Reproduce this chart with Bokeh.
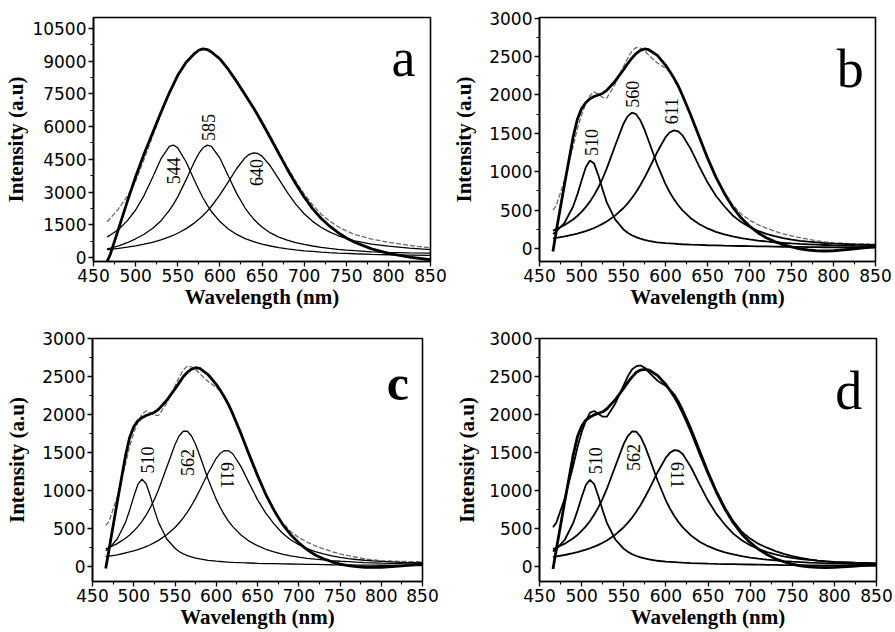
import math
from bokeh.plotting import figure
from bokeh.models import Range1d, FixedTicker
from bokeh.layouts import column, row
from bokeh.embed import file_html
from bokeh.resources import INLINE
from bokeh.core.properties import value

# ---------------- data ----------------
X_TICKS = [450, 500, 550, 600, 650, 700, 750, 800, 850]
X_MINOR = [475, 525, 575, 625, 675, 725, 775, 825]
A_YTICKS = [0, 1500, 3000, 4500, 6000, 7500, 9000, 10500]
A_YMINOR = [750, 2250, 3750, 5250, 6750, 8250, 9750]
BCD_YTICKS = [0, 500, 1000, 1500, 2000, 2500, 3000]
BCD_YMINOR = [250, 750, 1250, 1750, 2250, 2750]

# panel a
WA = [466, 470, 480, 490, 500, 510, 520, 530, 540, 545, 550, 560, 570, 575, 580, 585, 590, 600, 610, 620,
      630, 635, 640, 645, 650, 660, 670, 680, 690, 700, 710, 720, 730, 740, 750, 760, 780, 800, 825, 850]
A_EXP = [1640, 1800, 2250, 2800, 3500, 4500, 5550, 6550, 7500, 7950, 8350, 8950, 9400, 9530, 9580, 9550, 9450, 9150, 8650, 8100,
         7500, 7200, 6900, 6580, 6250, 5550, 4850, 4150, 3500, 2920, 2420, 2000, 1680, 1420, 1220, 1060, 850, 700, 560, 440]
A_FIT = [-200, 150, 1350, 2550, 3700, 4750, 5700, 6650, 7550, 7950, 8350, 8950, 9350, 9500, 9560, 9530, 9420, 9100, 8620, 8060,
         7460, 7150, 6850, 6520, 6180, 5480, 4760, 4050, 3380, 2780, 2240, 1800, 1450, 1150, 900, 700, 400, 190, 20, -100]
A_P544 = [950, 1030, 1300, 1680, 2180, 2840, 3660, 4520, 5090, 5150, 5030, 4380, 3520, 3120, 2730, 2400, 2110, 1650, 1310, 1060,
          870, 800, 730, 670, 620, 530, 460, 400, 350, 310, 280, 250, 225, 205, 190, 175, 150, 130, 115, 100]
A_P585 = [400, 430, 540, 680, 860, 1070, 1330, 1680, 2160, 2450, 2780, 3570, 4410, 4770, 5030, 5150, 5100, 4560, 3740, 2930,
          2270, 2000, 1770, 1570, 1400, 1130, 940, 800, 690, 600, 530, 470, 420, 380, 345, 315, 265, 235, 215, 200]
A_P640 = [362, 378, 422, 474, 536, 611, 700, 809, 945, 1024, 1114, 1325, 1590, 1751, 1929, 2129, 2352, 2870, 3468, 4082,
          4578, 4732, 4798, 4769, 4649, 4194, 3593, 2985, 2449, 2006, 1660, 1390, 1180, 1010, 880, 770, 620, 520, 430, 360]

# panels b, c, d share one wavelength grid
WB = [466, 470, 480, 490, 495, 500, 505, 510, 515, 520, 525, 530, 540, 550, 555, 560, 565, 570, 575, 580, 590, 600, 605,
      610, 615, 620, 630, 640, 650, 660, 670, 680, 690, 700, 710, 720, 730, 740, 750, 760, 770, 780, 790, 800, 825, 850]

B_EXP = [500, 560, 900, 1330, 1560, 1740, 1880, 1990, 2040, 2010, 1970, 1960, 2140, 2370, 2480, 2570, 2620, 2610, 2580, 2520,
         2420, 2350, 2300, 2230, 2130, 2010, 1740, 1450, 1170, 930, 730, 570, 450, 370, 310, 265, 225, 190, 165, 140, 120,
         100, 85, 75, 60, 55]
B_FIT = [-40, 230, 850, 1450, 1680, 1820, 1900, 1950, 1980, 2000, 2020, 2060, 2180, 2330, 2410, 2480, 2540, 2580, 2600, 2590,
         2520, 2390, 2310, 2220, 2120, 2000, 1740, 1460, 1180, 930, 720, 540, 400, 290, 205, 140, 90, 50, 20, -5, -20,
         -30, -33, -30, -5, 25]
B_P510 = [190, 221, 338, 547, 701, 883, 1055, 1147, 1106, 956, 772, 604, 378, 248, 205, 172, 148, 128, 112, 100,
          80, 70, 66, 62, 58, 55, 50, 46, 42, 39, 36, 34, 32, 30, 28, 26, 24, 22, 21, 20, 18, 17, 16, 15, 13, 11]
B_P560 = [233, 251, 306, 378, 423, 476, 538, 610, 695, 794, 909, 1040, 1339, 1626, 1725, 1769, 1750, 1671, 1548, 1400,
          1097, 838, 733, 643, 566, 500, 395, 318, 261, 217, 183, 156, 134, 117, 103, 91, 81, 73, 65, 59, 54, 49, 45, 41, 34, 29]
B_P611 = [130, 137, 156, 180, 194, 209, 226, 246, 267, 292, 320, 351, 428, 527, 588, 657, 736, 824, 923, 1029,
          1254, 1449, 1512, 1539, 1527, 1478, 1298, 1074, 862, 687, 550, 430, 345, 280, 230, 190, 160, 135, 115, 100,
          88, 78, 70, 63, 52, 45]

C_EXP = [540, 590, 920, 1350, 1580, 1760, 1900, 2010, 2050, 2020, 1990, 1990, 2150, 2380, 2490, 2590, 2640, 2630, 2600, 2540,
         2440, 2360, 2310, 2240, 2140, 2020, 1750, 1460, 1180, 940, 740, 580, 460, 380, 320, 270, 230, 195, 165, 140, 120,
         100, 85, 75, 65, 60]
C_FIT = [-30, 220, 850, 1460, 1700, 1840, 1920, 1960, 1990, 2010, 2030, 2070, 2190, 2340, 2420, 2500, 2560, 2600, 2620, 2610,
         2530, 2400, 2320, 2230, 2130, 2010, 1750, 1470, 1200, 950, 740, 560, 420, 310, 220, 150, 100, 60, 30, 8, -5,
         -12, -15, -12, 5, 30]
C_P510 = [205, 235, 360, 580, 740, 920, 1080, 1150, 1090, 930, 745, 580, 360, 238, 196, 165, 142, 124, 109, 97,
          78, 68, 64, 60, 56, 53, 48, 44, 40, 37, 35, 33, 31, 29, 27, 25, 23, 21, 20, 19, 17, 16, 15, 14, 12, 10]
C_P562 = [229, 247, 300, 370, 413, 465, 524, 594, 676, 772, 883, 1011, 1307, 1607, 1719, 1782, 1782, 1719, 1607, 1463,
          1153, 883, 772, 676, 594, 524, 413, 332, 272, 225, 190, 162, 139, 121, 106, 94, 84, 75, 67, 61, 55, 50, 46, 42, 35, 29]
C_P611 = [127, 134, 152, 176, 190, 205, 221, 240, 261, 285, 312, 342, 417, 513, 572, 639, 716, 802, 899, 1003,
          1228, 1425, 1492, 1527, 1524, 1485, 1315, 1094, 880, 702, 560, 440, 350, 285, 235, 195, 163, 138, 118, 102,
          90, 80, 72, 65, 53, 46]

D_EXP = [520, 580, 900, 1330, 1570, 1770, 1920, 2030, 2050, 2010, 1975, 1975, 2150, 2390, 2510, 2600, 2640, 2650, 2620, 2560,
         2450, 2380, 2330, 2270, 2180, 2070, 1820, 1540, 1260, 1000, 780, 600, 460, 370, 300, 250, 205, 170, 140, 115, 95,
         80, 70, 60, 50, 45]
D_FIT = [-30, 230, 860, 1470, 1710, 1850, 1930, 1970, 2000, 2020, 2040, 2080, 2200, 2350, 2430, 2500, 2560, 2590, 2600, 2590,
         2520, 2400, 2320, 2240, 2140, 2030, 1780, 1500, 1230, 980, 760, 580, 430, 320, 230, 160, 105, 65, 35, 12, -2,
         -10, -12, -10, 8, 35]
D_P510 = [200, 232, 355, 575, 735, 915, 1075, 1145, 1085, 925, 740, 578, 358, 236, 195, 164, 141, 123, 108, 96,
          78, 68, 64, 60, 56, 53, 48, 44, 40, 37, 35, 33, 31, 29, 27, 25, 23, 21, 20, 19, 17, 16, 15, 14, 12, 10]
D_P562 = [231, 249, 303, 374, 418, 471, 531, 602, 686, 784, 897, 1027, 1323, 1617, 1724, 1783, 1777, 1709, 1592, 1446,
          1138, 872, 763, 668, 587, 518, 409, 329, 270, 224, 189, 161, 138, 120, 105, 93, 83, 74, 66, 60, 54, 49, 45, 41, 34, 28]
D_P611 = [128, 135, 154, 178, 192, 207, 224, 243, 264, 288, 316, 346, 422, 520, 580, 648, 726, 813, 911, 1016,
          1241, 1437, 1502, 1535, 1527, 1483, 1306, 1084, 871, 695, 555, 435, 348, 283, 233, 193, 162, 137, 117, 101,
          89, 79, 71, 64, 52, 45]

# peak labels
A_LABELS = ["544", "585", "640"]
A_LABEL_X = [545, 586, 643]
A_LABEL_Y = [3980, 5960, 3900]
B_LABELS = ["510", "560", "611"]
B_LABEL_X = [511.5, 561, 607]
B_LABEL_Y = [1380, 2009, 1790]
C_LABELS = ["510", "562", "611"]
C_LABEL_X = [517, 565, 614]
C_LABEL_Y = [1404, 1369, 1204]
D_LABELS = ["510", "562", "611"]
D_LABEL_X = [516, 562, 614]
D_LABEL_Y = [1394, 1437, 1207]

SERIF = "Liberation Serif"
SANS = "DejaVu Sans"


def make_panel(w, exp, fit, comps, labels, lx, ly, angles, letter, lxy, letter_style,
               yticks, yminor, yr, width, height, borders, ystand, exp_style, comp_w):
    left, right, top, bottom = borders
    p = figure(width=width, height=height, x_range=Range1d(450, 850), y_range=Range1d(*yr),
               output_backend="svg", toolbar_location=None,
               min_border_left=left, min_border_right=right, min_border_top=top, min_border_bottom=bottom)
    p.xgrid.visible = False
    p.ygrid.visible = False
    p.outline_line_color = "black"
    p.outline_line_width = 1.6
    p.outline_line_alpha = 1.0
    p.background_fill_color = "white"
    p.border_fill_color = "white"

    p.xaxis.ticker = FixedTicker(ticks=X_TICKS, minor_ticks=X_MINOR)
    p.yaxis.ticker = FixedTicker(ticks=yticks, minor_ticks=yminor)
    for ax in (p.xaxis[0], p.yaxis[0]):
        ax.axis_line_width = 1.6
        ax.axis_line_color = "black"
        ax.major_tick_line_color = "black"
        ax.minor_tick_line_color = "black"
        ax.major_tick_line_width = 1.3
        ax.minor_tick_line_width = 1.1
        ax.major_tick_in = 0
        ax.major_tick_out = 5
        ax.minor_tick_in = 0
        ax.minor_tick_out = 3
        ax.major_label_text_font = SANS
        ax.major_label_text_font_size = "17px"
        ax.major_label_text_color = "black"
        ax.axis_label_text_font = SERIF
        ax.axis_label_text_font_style = "bold"
        ax.axis_label_text_font_size = "21px"
        ax.axis_label_text_color = "black"
    p.xaxis.axis_label = "Wavelength (nm)"
    p.yaxis.axis_label = "Intensity (a.u)"
    p.xaxis.major_label_standoff = 2
    p.xaxis.axis_label_standoff = 0
    p.yaxis.major_label_standoff = 2
    p.yaxis.axis_label_standoff = ystand

    # experimental spectrum
    p.line(w, exp, **exp_style)
    # fitted components
    for c in comps:
        p.line(w, c, line_color="black", line_width=comp_w)
    # cumulative fit
    p.line(w, fit, line_color="black", line_width=2.8)

    p.text(x=lx, y=ly, text=labels, angle=angles, text_font=value(SERIF), text_font_size="18px",
           text_align="center", text_baseline="middle", text_color="black")
    p.text(x=[lxy[0]], y=[lxy[1]], text=[letter], text_font=value(SERIF), text_align="center",
           text_baseline="alphabetic", text_color="black", **letter_style)
    return p


UP = math.pi / 2
DOWN = -math.pi / 2
dashed = dict(line_color="#6a6a6a", line_width=1.3, line_dash="5 2")

# top row: frames y 17..261 ; bottom row: frames y 338..582
pa = make_panel(WA, A_EXP, A_FIT, [A_P544, A_P585, A_P640], A_LABELS, A_LABEL_X, A_LABEL_Y, [UP, UP, UP],
                "a", (818, 9127), dict(text_font_size="54px"),
                A_YTICKS, A_YMINOR, (-180, 11000), 447, 311, (93, 17, 17, 50), 1, dashed, 1.3)
pb = make_panel(WB, B_EXP, B_FIT, [B_P510, B_P560, B_P611], B_LABELS, B_LABEL_X, B_LABEL_Y, [UP, UP, UP],
                "b", (820, 2345), dict(text_font_size="54px"),
                BCD_YTICKS, BCD_YMINOR, (-170, 3010), 447, 311, (92, 19, 17, 50), 10, dashed, 1.8)
pc = make_panel(WB, C_EXP, C_FIT, [C_P510, C_P562, C_P611], C_LABELS, C_LABEL_X, C_LABEL_Y, [UP, UP, DOWN],
                "c", (820, 2413), dict(text_font_size="50px", text_font_style="bold"),
                BCD_YTICKS, BCD_YMINOR, (-200, 3005), 447, 320, (92, 25, 27, 49), 10, dashed, 1.3)
pd = make_panel(WB, D_EXP, D_FIT, [D_P510, D_P562, D_P611], D_LABELS, D_LABEL_X, D_LABEL_Y, [UP, UP, DOWN],
                "d", (817, 2314), dict(text_font_size="54px"),
                BCD_YTICKS, BCD_YMINOR, (-195, 3005), 447, 320, (92, 18, 27, 49), 7,
                dict(line_color="black", line_width=1.8), 1.8)

layout = column(row(pa, pb), row(pc, pd))
open("out.html", "w").write(file_html(layout, INLINE))
